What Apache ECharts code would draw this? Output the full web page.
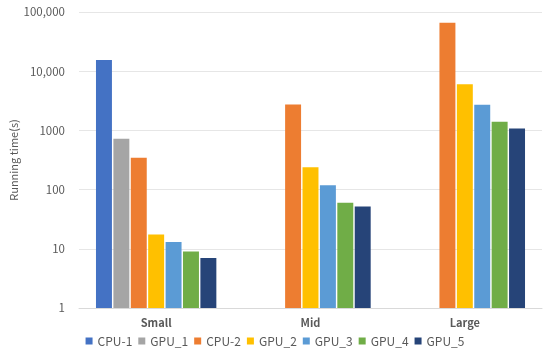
<!DOCTYPE html>
<html><head><meta charset="utf-8">
<script src="https://cdn.jsdelivr.net/npm/echarts@6/dist/echarts.min.js"></script>
<style>html,body{margin:0;padding:0;background:#fff}#c{width:550px;height:353px}</style>
</head><body><div id="c"></div>
<script>
const categories = ['Small', 'Mid', 'Large'];
const seriesNames = ['CPU-1', 'GPU_1', 'CPU-2', 'GPU_2', 'GPU_3', 'GPU_4', 'GPU_5'];
const cpu1 = [15500, null, null];
const gpu1 = [720, null, null];
const cpu2 = [345, 2750, 66000];
const gpu2 = [17.5, 238, 6000];
const gpu3 = [13, 118, 2700];
const gpu4 = [9, 60, 1400];
const gpu5 = [7, 52, 1080];
const yTickLabels = {1: '1', 10: '10', 100: '100', 1000: '1000', 10000: '10,000', 100000: '100,000'};
const colors = ['#4472C4', '#A5A5A5', '#ED7D31', '#FFC000', '#5B9BD5', '#70AD47', '#264478'];
const values = [cpu1, gpu1, cpu2, gpu2, gpu3, gpu4, gpu5];
const font = '"Noto Sans CJK JP", "Noto Sans", sans-serif';
const chart = echarts.init(document.getElementById('c'));
chart.setOption({
  animation: false,
  textStyle: {fontFamily: font},
  grid: {left: 79, right: 8, top: 12, bottom: 45, containLabel: false, outerBoundsMode: 'none'},
  legend: {
    bottom: 1, left: 'center', itemWidth: 7, itemHeight: 7, itemGap: 6,
    icon: 'rect',
    textStyle: {fontFamily: font, fontSize: 12, color: '#595959'},
    data: seriesNames
  },
  xAxis: {
    type: 'category', data: categories,
    axisLine: {lineStyle: {color: '#D9D9D9'}},
    axisTick: {show: false},
    axisLabel: {color: '#595959', fontSize: 11, fontWeight: 'bold', margin: 9, fontFamily: font}
  },
  yAxis: {
    type: 'log', logBase: 10, min: 1, max: 100000,
    name: 'Running time(s)', nameLocation: 'middle', nameGap: 60, nameMoveOverlap: false,
    nameTextStyle: {color: '#595959', fontSize: 11, fontFamily: font},
    axisLine: {show: false}, axisTick: {show: false},
    splitLine: {lineStyle: {color: '#E6E6E6'}},
    minorSplitLine: {show: false},
    axisLabel: {color: '#595959', fontSize: 11.5, margin: 14, fontFamily: font,
      formatter: v => yTickLabels[Math.round(v)] || ''}
  },
  series: seriesNames.map((n, i) => ({
    name: n, type: 'bar', data: values[i],
    barGap: '9%', barCategoryGap: '22%',
    itemStyle: {color: colors[i]}
  }))
});
</script></body></html>
